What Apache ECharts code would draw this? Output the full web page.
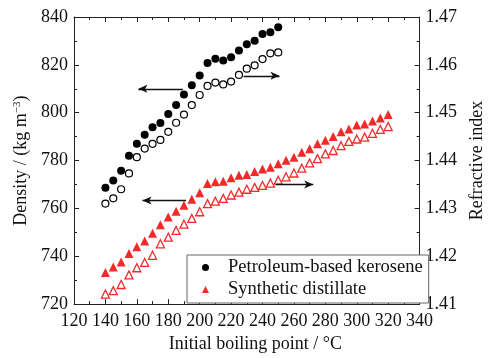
<!DOCTYPE html>
<html>
<head>
<meta charset="utf-8">
<script src="https://cdn.jsdelivr.net/npm/echarts@6/dist/echarts.min.js"></script>
<style>
html,body{margin:0;padding:0;background:#fff;}
#c{width:494px;height:358px;}
</style>
</head>
<body>
<div id="c"></div>
<script>
var keroTemp = [140,145,150,155,160,165,170,175,180,185,190,195,200,205,210,215,220,225,230,235,240,245,250];
var keroDensity = [768.6,771.7,775.7,782.0,787.0,790.8,793.9,795.7,799.5,803.2,807.6,811.5,815.6,820.8,822.6,821.8,823.2,826.0,828.6,830.1,832.9,833.6,835.7];
var keroRI = [1.4310,1.4321,1.4340,1.4373,1.4407,1.4425,1.4435,1.4443,1.4460,1.4479,1.4496,1.4516,1.4537,1.4556,1.4563,1.4559,1.4565,1.4579,1.4592,1.4599,1.4612,1.4624,1.4626];

var synTemp = [140,145,150,155,160,165,170,175,180,185,190,195,200,205,210,215,220,225,230,235,240,245,250,255,260,265,270,275,280,285,290,295,300,305,310,315,320];
var synDensity = [733.2,735.5,737.6,741.1,744.0,746.4,749.6,753.2,756.4,758.8,761.3,763.8,766.5,770.4,771.1,771.4,772.8,773.9,774.2,775.4,776.5,777.2,778.7,780.1,781.4,783.5,784.9,787.0,788.5,790.1,792.0,793.2,794.9,795.3,796.5,797.8,799.2];
var synRI = [1.4121,1.4128,1.4141,1.4161,1.4176,1.4187,1.4202,1.4226,1.4240,1.4254,1.4267,1.4279,1.4293,1.4310,1.4315,1.4321,1.4328,1.4334,1.4340,1.4344,1.4348,1.4353,1.4359,1.4366,1.4374,1.4384,1.4395,1.4404,1.4414,1.4421,1.4431,1.4440,1.4445,1.4449,1.4457,1.4465,1.4471];

var seriesNames = ['Petroleum-based kerosene','Synthetic distillate'];
var xTitle = 'Initial boiling point / \u00B0C';
var yLeftTitle = 'Density / (kg m{sup|\u22123})';
var yRightTitle = 'Refractive index';

function pairs(xs, ys){ return xs.map(function(x,i){ return [x, ys[i]]; }); }

var FONT = '"Liberation Serif","Times New Roman",serif';
var RED = '#f42a2a';
var INK = '#111';

var axisCommon = {
  axisLine:{show:true, lineStyle:{color:'#222', width:1}},
  axisTick:{show:true, inside:true, length:5, lineStyle:{color:'#222'}},
  minorTick:{show:true, splitNumber:2, length:3, lineStyle:{color:'#222'}},
  splitLine:{show:false},
  minorSplitLine:{show:false}
};
function ax(extra){ return Object.assign({}, JSON.parse(JSON.stringify(axisCommon)), extra); }

var chart = echarts.init(document.getElementById('c'), null, {renderer:'canvas'});
chart.setOption({
  animation:false,
  backgroundColor:'#fff',
  textStyle:{fontFamily:FONT},
  grid:{left:74, right:62, top:17, bottom:53, containLabel:false},
  legend:{
    data:[{name:seriesNames[0], icon:'circle'},{name:seriesNames[1], icon:'triangle'}],
    orient:'vertical', left:187, top:255,
    itemWidth:7, itemHeight:7, itemGap:3,
    padding:[3,6,4,15],
    borderColor:'#666', borderWidth:1, backgroundColor:'#fff',
    textStyle:{fontFamily:FONT, fontSize:18.5, color:INK, padding:[0,0,0,14]}
  },
  xAxis:[
    ax({type:'value', position:'bottom', min:120, max:340, interval:20,
      axisLabel:{fontFamily:FONT, fontSize:18, color:INK, margin:8},
      name:xTitle, nameLocation:'middle', nameGap:30,
      nameTextStyle:{fontFamily:FONT, fontSize:18, color:INK, padding:[0,0,0,17]}}),
    ax({type:'value', position:'top', min:120, max:340, interval:20,
      axisLabel:{show:false}})
  ],
  yAxis:[
    ax({type:'value', position:'left', min:720, max:840, interval:20,
      axisLabel:{fontFamily:FONT, fontSize:18, color:INK, margin:6},
      name:yLeftTitle, nameLocation:'middle', nameGap:42, nameRotate:90,
      nameTextStyle:{fontFamily:FONT, fontSize:18, color:INK,
        rich:{sup:{fontFamily:FONT, fontSize:11, color:INK, verticalAlign:'top', padding:[0,0,8,0]}}}}),
    ax({type:'value', position:'right', min:1.41, max:1.47, interval:0.01,
      axisLabel:{fontFamily:FONT, fontSize:18, color:INK, margin:6,
        formatter:function(v){ return v.toFixed(2); }},
      name:yRightTitle, nameLocation:'middle', nameGap:39, nameRotate:90,
      nameTextStyle:{fontFamily:FONT, fontSize:18, color:INK}})
  ],
  series:[
    {
      name:seriesNames[0], type:'scatter', xAxisIndex:0, yAxisIndex:0,
      symbol:'circle', symbolSize:8,
      itemStyle:{color:'#000', opacity:1},
      data:pairs(keroTemp, keroDensity),
      markLine:{
        silent:true, symbol:['none','arrow'], symbolSize:[6,9],
        label:{show:false},
        lineStyle:{color:'#111', width:1.3, type:'solid', opacity:1},
        emphasis:{disabled:true},
        data:[
          [{coord:[189.3,810]},{coord:[161,810]}],
          [{coord:[228,815.4]},{coord:[250.8,815.4]}],
          [{coord:[191.3,763.3]},{coord:[163.6,763.3]}],
          [{coord:[248.4,770]},{coord:[272.3,770]}]
        ]
      },
      z:3
    },
    {
      name:'kero-ri', type:'scatter', xAxisIndex:0, yAxisIndex:1,
      symbol:'circle', symbolSize:7,
      itemStyle:{color:'#fff', borderColor:'#000', borderWidth:1.2, opacity:1},
      data:pairs(keroTemp, keroRI), z:3
    },
    {
      name:seriesNames[1], type:'scatter', xAxisIndex:0, yAxisIndex:0,
      symbol:'triangle', symbolSize:9,
      itemStyle:{color:RED, opacity:1},
      data:pairs(synTemp, synDensity), z:3
    },
    {
      name:'syn-ri', type:'scatter', xAxisIndex:0, yAxisIndex:1,
      symbol:'triangle', symbolSize:8,
      itemStyle:{color:'#fff', borderColor:RED, borderWidth:1.3, opacity:1},
      data:pairs(synTemp, synRI), z:3
    }
  ]
});
</script>
</body>
</html>
